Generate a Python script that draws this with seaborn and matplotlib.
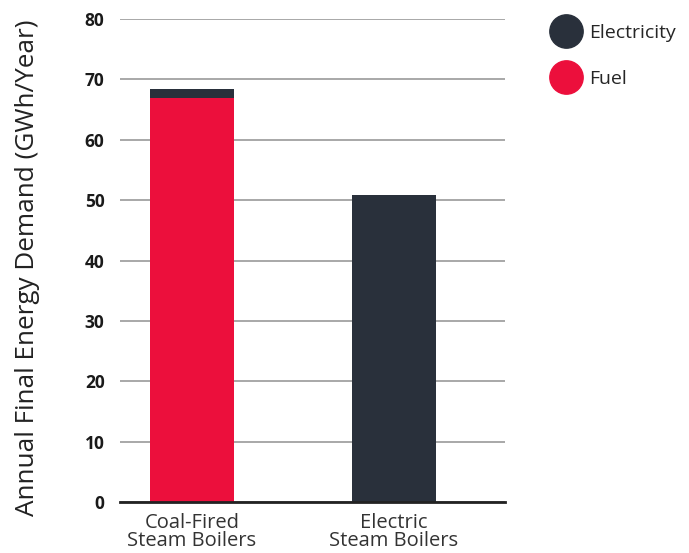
import matplotlib
matplotlib.use("Agg")
import matplotlib.pyplot as plt
import seaborn as sns
import pandas as pd
from matplotlib.lines import Line2D

categories = ["Coal-Fired\nSteam Boilers", "Electric\nSteam Boilers"]
fuel = [67.0, 0.0]
electricity = [1.4, 50.8]
yticks = [0, 10, 20, 30, 40, 50, 60, 70, 80]

RED = "#EC0F3C"
DARK = "#29303B"

sns.set_theme(style="white")
plt.rcParams['font.family'] = ['Open Sans', 'DejaVu Sans']

fig = plt.figure(figsize=(6.89, 5.53), dpi=100)
ax = fig.add_axes([0.174, 0.0922, 0.559, 0.8734])

total = [f + e for f, e in zip(fuel, electricity)]
df_total = pd.DataFrame({"cat": categories, "val": total})
df_fuel = pd.DataFrame({"cat": categories, "val": fuel})

sns.barplot(data=df_total, x="cat", y="val", color=DARK, width=0.416,
            saturation=1, ax=ax, zorder=3, linewidth=0)
sns.barplot(data=df_fuel, x="cat", y="val", color=RED, width=0.416,
            saturation=1, ax=ax, zorder=4, linewidth=0)

ax.set_ylim(0, 80)
ax.set_xlim(-0.356, 1.55)
ax.set_yticks(yticks)
ax.set_yticklabels([str(t) for t in yticks], fontweight="bold", fontsize=12.5, color="#1a1a1a")
ax.set_xticklabels(categories, fontsize=14.5, color="#333333", linespacing=0.85)
ax.tick_params(axis="y", length=0, pad=11)
ax.tick_params(axis="x", length=0, pad=8)
ax.set_xlabel("")
ax.set_ylabel("Annual Final Energy Demand (GWh/Year)", fontsize=18.8, color="#222222")
ax.yaxis.set_label_coords(-0.208, 0.485)

ax.grid(axis="y", color="#999999", linewidth=1.2, zorder=0)
ax.grid(axis="x", visible=False)
for s in ["top", "right", "left"]:
    ax.spines[s].set_visible(False)
ax.spines["bottom"].set_color("#222222")
ax.spines["bottom"].set_linewidth(2)
ax.spines["bottom"].set_zorder(5)

handles = [
    Line2D([], [], marker="o", linestyle="", markersize=24, color=DARK, label="Electricity"),
    Line2D([], [], marker="o", linestyle="", markersize=24, color=RED, label="Fuel"),
]
fig.legend(handles=handles, loc="upper left", bbox_to_anchor=(0.779, 0.989),
           frameon=False, fontsize=14, labelspacing=1.45, handletextpad=0.6,
           handlelength=1.2)

fig.savefig("out.png", dpi=100)
